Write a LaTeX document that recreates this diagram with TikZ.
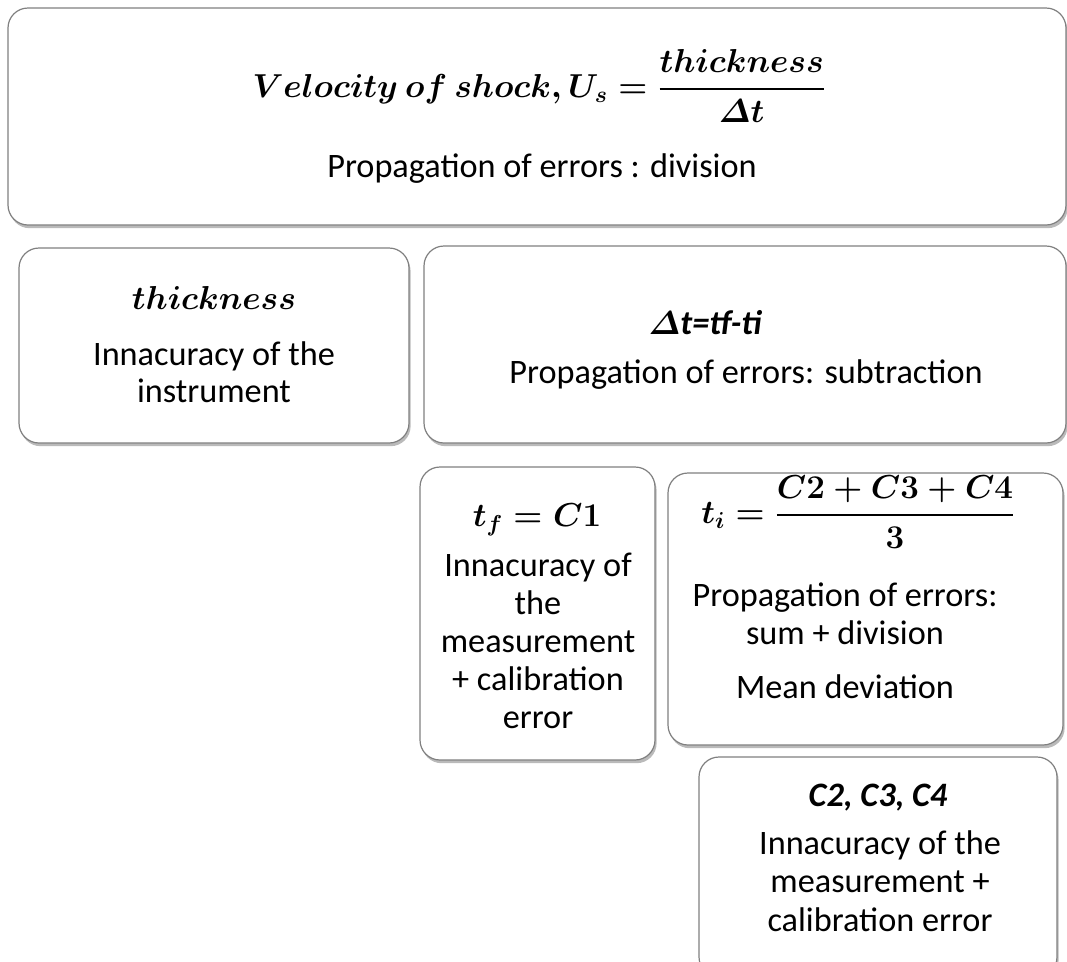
\documentclass[tikz,border=0pt]{standalone}
\usepackage{amsmath}
\usepackage{fontspec}
\setmainfont{Carlito}
\usetikzlibrary{shadows}
\tikzset{
  px/.style={x=0.75pt,y=-0.75pt},
  box/.style={draw=black!50, line width=0.9pt, rounded corners=15pt, fill=white,
    drop shadow={shadow xshift=1.2pt, shadow yshift=-2.4pt, opacity=0.45, fill=black!60}},
  txt/.style={font=\fontsize{25.7}{27.5}\selectfont, align=center, inner sep=0pt},
  mth/.style={font=\fontsize{24}{28}\selectfont\boldmath, align=center, inner sep=0pt},
  bit/.style={font=\fontsize{25.7}{27.5}\selectfont\bfseries\itshape, align=center, inner sep=0pt},
}
\begin{document}
\begin{tikzpicture}[px]
\useasboundingbox (0,0) rectangle (1067,961);
\fill[white] (0,0) rectangle (1067,961);
% boxes
\node[box, minimum width=1058*0.75pt, minimum height=217*0.75pt] (top) at (537,116.5) {};
\node[box, minimum width=390*0.75pt, minimum height=195*0.75pt] (thick) at (214,345.5) {};
\node[box, minimum width=642*0.75pt, minimum height=197*0.75pt] (dt) at (745,344.5) {};
\node[box, minimum width=235*0.75pt, minimum height=293*0.75pt] (tf) at (537.5,613.5) {};
\node[box, minimum width=395*0.75pt, minimum height=272*0.75pt] (ti) at (865.5,609) {};
\node[box, minimum width=358*0.75pt, minimum height=220*0.75pt] (cc) at (878,867) {};
% texts
\node[mth] (topm) at (539,86) {$Velocity\ of\ shock, U_s = \dfrac{thickness}{\varDelta t}$};
\node[txt] (topt) at (542,169) {Propagation of errors : division};
\node[mth] (thm) at (214,298) {$thickness$};
\node[txt] (tht) at (214,372) {Innacuracy of the\\instrument};
\node[bit] (dtm) at (705,323) {$\boldsymbol{\varDelta}$t=tf-ti};
\node[txt] (dtt) at (746,375) {Propagation of errors: subtraction};
\node[mth] (tfm) at (537,520) {$t_f = C1$};
\node[txt, font=\fontsize{25.7}{28.5}\selectfont] (tft) at (538,641) {Innacuracy of\\the\\measurement\\+ calibration\\error};
\node[mth] (tim) at (858,512) {$t_i = \dfrac{C2 + C3 + C4}{3}$};
\node[txt, font=\fontsize{25.7}{28.5}\selectfont] (tit) at (845,614) {Propagation of errors:\\sum + division};
\node[txt] (tid) at (845,687) {Mean deviation};
\node[bit] (ccm) at (878,798) {C2, C3, C4};
\node[txt, font=\fontsize{25.7}{29}\selectfont] (cct) at (880,881) {Innacuracy of the\\measurement +\\calibration error};
\end{tikzpicture}
\end{document}
